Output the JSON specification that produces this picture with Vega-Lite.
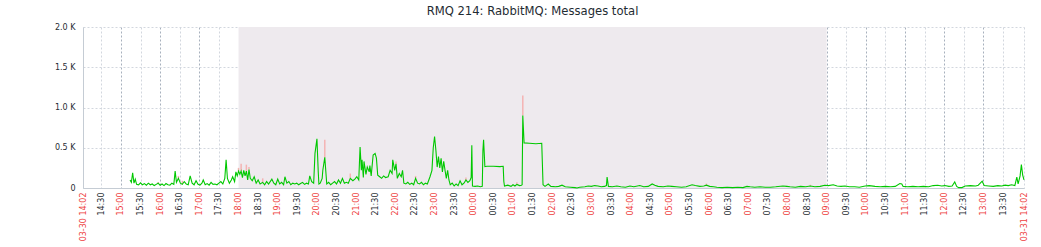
{
  "$schema": "https://vega.github.io/schema/vega-lite/v6.json",
  "width": 941,
  "height": 161,
  "autosize": "none",
  "padding": {"left": 83, "top": 27, "right": 17, "bottom": 59},
  "background": "white",
  "title": {
    "text": "RMQ 214: RabbitMQ: Messages total",
    "font": "DejaVu Sans",
    "fontSize": 11.6,
    "fontWeight": "normal",
    "color": "#1f2c33",
    "anchor": "middle",
    "frame": "group",
    "dx": -21,
    "offset": 5
  },
  "config": {
    "view": {"stroke": null},
    "axis": {"labelFont": "DejaVu Sans", "labelFontSize": 8, "titleFont": "DejaVu Sans"}
  },
  "data": {"values": [
      {"t": "2024-03-30T15:14Z", "v": 100},
      {"t": "2024-03-30T15:16Z", "v": 70},
      {"t": "2024-03-30T15:18Z", "v": 190},
      {"t": "2024-03-30T15:20Z", "v": 60},
      {"t": "2024-03-30T15:22Z", "v": 110},
      {"t": "2024-03-30T15:24Z", "v": 45},
      {"t": "2024-03-30T15:27Z", "v": 40},
      {"t": "2024-03-30T15:30Z", "v": 65},
      {"t": "2024-03-30T15:33Z", "v": 40},
      {"t": "2024-03-30T15:36Z", "v": 55},
      {"t": "2024-03-30T15:39Z", "v": 35},
      {"t": "2024-03-30T15:42Z", "v": 60},
      {"t": "2024-03-30T15:45Z", "v": 40},
      {"t": "2024-03-30T15:48Z", "v": 50},
      {"t": "2024-03-30T15:51Z", "v": 30},
      {"t": "2024-03-30T15:54Z", "v": 45},
      {"t": "2024-03-30T15:57Z", "v": 60, "m": 75},
      {"t": "2024-03-30T16:00Z", "v": 35},
      {"t": "2024-03-30T16:03Z", "v": 50},
      {"t": "2024-03-30T16:06Z", "v": 30},
      {"t": "2024-03-30T16:09Z", "v": 55},
      {"t": "2024-03-30T16:12Z", "v": 40},
      {"t": "2024-03-30T16:15Z", "v": 35},
      {"t": "2024-03-30T16:18Z", "v": 60},
      {"t": "2024-03-30T16:21Z", "v": 45},
      {"t": "2024-03-30T16:23Z", "v": 210},
      {"t": "2024-03-30T16:25Z", "v": 70},
      {"t": "2024-03-30T16:28Z", "v": 120, "m": 150},
      {"t": "2024-03-30T16:31Z", "v": 60},
      {"t": "2024-03-30T16:34Z", "v": 45, "m": 90},
      {"t": "2024-03-30T16:37Z", "v": 80},
      {"t": "2024-03-30T16:40Z", "v": 50},
      {"t": "2024-03-30T16:43Z", "v": 40},
      {"t": "2024-03-30T16:46Z", "v": 150},
      {"t": "2024-03-30T16:49Z", "v": 60},
      {"t": "2024-03-30T16:52Z", "v": 40},
      {"t": "2024-03-30T16:55Z", "v": 90},
      {"t": "2024-03-30T16:58Z", "v": 45},
      {"t": "2024-03-30T17:01Z", "v": 35},
      {"t": "2024-03-30T17:04Z", "v": 60},
      {"t": "2024-03-30T17:06Z", "v": 100},
      {"t": "2024-03-30T17:09Z", "v": 40},
      {"t": "2024-03-30T17:12Z", "v": 55},
      {"t": "2024-03-30T17:15Z", "v": 35},
      {"t": "2024-03-30T17:18Z", "v": 70},
      {"t": "2024-03-30T17:21Z", "v": 45},
      {"t": "2024-03-30T17:24Z", "v": 50},
      {"t": "2024-03-30T17:27Z", "v": 40},
      {"t": "2024-03-30T17:30Z", "v": 60},
      {"t": "2024-03-30T17:33Z", "v": 80},
      {"t": "2024-03-30T17:36Z", "v": 50},
      {"t": "2024-03-30T17:39Z", "v": 120},
      {"t": "2024-03-30T17:41Z", "v": 350},
      {"t": "2024-03-30T17:43Z", "v": 120},
      {"t": "2024-03-30T17:46Z", "v": 60},
      {"t": "2024-03-30T17:49Z", "v": 100},
      {"t": "2024-03-30T17:51Z", "v": 140},
      {"t": "2024-03-30T17:54Z", "v": 80},
      {"t": "2024-03-30T17:56Z", "v": 200},
      {"t": "2024-03-30T17:58Z", "v": 150},
      {"t": "2024-03-30T18:00Z", "v": 210, "m": 250},
      {"t": "2024-03-30T18:02Z", "v": 170},
      {"t": "2024-03-30T18:04Z", "v": 210, "m": 300},
      {"t": "2024-03-30T18:06Z", "v": 130},
      {"t": "2024-03-30T18:08Z", "v": 220},
      {"t": "2024-03-30T18:10Z", "v": 150},
      {"t": "2024-03-30T18:12Z", "v": 210, "m": 290},
      {"t": "2024-03-30T18:14Z", "v": 100},
      {"t": "2024-03-30T18:16Z", "v": 230, "m": 260},
      {"t": "2024-03-30T18:18Z", "v": 120},
      {"t": "2024-03-30T18:21Z", "v": 90},
      {"t": "2024-03-30T18:24Z", "v": 140},
      {"t": "2024-03-30T18:27Z", "v": 60},
      {"t": "2024-03-30T18:30Z", "v": 100},
      {"t": "2024-03-30T18:33Z", "v": 50},
      {"t": "2024-03-30T18:37Z", "v": 70, "m": 120},
      {"t": "2024-03-30T18:40Z", "v": 40},
      {"t": "2024-03-30T18:43Z", "v": 80},
      {"t": "2024-03-30T18:46Z", "v": 50},
      {"t": "2024-03-30T18:51Z", "v": 110},
      {"t": "2024-03-30T18:54Z", "v": 60},
      {"t": "2024-03-30T18:57Z", "v": 40},
      {"t": "2024-03-30T19:00Z", "v": 110},
      {"t": "2024-03-30T19:03Z", "v": 50},
      {"t": "2024-03-30T19:06Z", "v": 70},
      {"t": "2024-03-30T19:09Z", "v": 40},
      {"t": "2024-03-30T19:11Z", "v": 140},
      {"t": "2024-03-30T19:14Z", "v": 60},
      {"t": "2024-03-30T19:17Z", "v": 80},
      {"t": "2024-03-30T19:20Z", "v": 40},
      {"t": "2024-03-30T19:23Z", "v": 60},
      {"t": "2024-03-30T19:26Z", "v": 50},
      {"t": "2024-03-30T19:29Z", "v": 60},
      {"t": "2024-03-30T19:32Z", "v": 40},
      {"t": "2024-03-30T19:35Z", "v": 55},
      {"t": "2024-03-30T19:38Z", "v": 70},
      {"t": "2024-03-30T19:41Z", "v": 45},
      {"t": "2024-03-30T19:44Z", "v": 60},
      {"t": "2024-03-30T19:47Z", "v": 50},
      {"t": "2024-03-30T19:49Z", "v": 150},
      {"t": "2024-03-30T19:52Z", "v": 80},
      {"t": "2024-03-30T19:55Z", "v": 60},
      {"t": "2024-03-30T19:57Z", "v": 430},
      {"t": "2024-03-30T20:00Z", "v": 610},
      {"t": "2024-03-30T20:02Z", "v": 200},
      {"t": "2024-03-30T20:03Z", "v": 50},
      {"t": "2024-03-30T20:05Z", "v": 60},
      {"t": "2024-03-30T20:08Z", "v": 120},
      {"t": "2024-03-30T20:09Z", "v": 220},
      {"t": "2024-03-30T20:12Z", "v": 380, "m": 600},
      {"t": "2024-03-30T20:15Z", "v": 50},
      {"t": "2024-03-30T20:18Z", "v": 70},
      {"t": "2024-03-30T20:21Z", "v": 40},
      {"t": "2024-03-30T20:24Z", "v": 60},
      {"t": "2024-03-30T20:27Z", "v": 80},
      {"t": "2024-03-30T20:30Z", "v": 50},
      {"t": "2024-03-30T20:33Z", "v": 100},
      {"t": "2024-03-30T20:36Z", "v": 60},
      {"t": "2024-03-30T20:39Z", "v": 120},
      {"t": "2024-03-30T20:42Z", "v": 60},
      {"t": "2024-03-30T20:45Z", "v": 70},
      {"t": "2024-03-30T20:48Z", "v": 60},
      {"t": "2024-03-30T20:51Z", "v": 120, "m": 180},
      {"t": "2024-03-30T20:55Z", "v": 90},
      {"t": "2024-03-30T20:58Z", "v": 110},
      {"t": "2024-03-30T21:01Z", "v": 140},
      {"t": "2024-03-30T21:04Z", "v": 100},
      {"t": "2024-03-30T21:06Z", "v": 510},
      {"t": "2024-03-30T21:08Z", "v": 220},
      {"t": "2024-03-30T21:09Z", "v": 350},
      {"t": "2024-03-30T21:11Z", "v": 130},
      {"t": "2024-03-30T21:12Z", "v": 330},
      {"t": "2024-03-30T21:15Z", "v": 170},
      {"t": "2024-03-30T21:17Z", "v": 260},
      {"t": "2024-03-30T21:20Z", "v": 200},
      {"t": "2024-03-30T21:21Z", "v": 280},
      {"t": "2024-03-30T21:23Z", "v": 150},
      {"t": "2024-03-30T21:26Z", "v": 410},
      {"t": "2024-03-30T21:29Z", "v": 430},
      {"t": "2024-03-30T21:31Z", "v": 370},
      {"t": "2024-03-30T21:33Z", "v": 160},
      {"t": "2024-03-30T21:36Z", "v": 140},
      {"t": "2024-03-30T21:39Z", "v": 120},
      {"t": "2024-03-30T21:42Z", "v": 150},
      {"t": "2024-03-30T21:45Z", "v": 130},
      {"t": "2024-03-30T21:49Z", "v": 140},
      {"t": "2024-03-30T21:52Z", "v": 220},
      {"t": "2024-03-30T21:55Z", "v": 180},
      {"t": "2024-03-30T21:56Z", "v": 350},
      {"t": "2024-03-30T21:59Z", "v": 220},
      {"t": "2024-03-30T22:01Z", "v": 300, "m": 330},
      {"t": "2024-03-30T22:03Z", "v": 120},
      {"t": "2024-03-30T22:06Z", "v": 180},
      {"t": "2024-03-30T22:09Z", "v": 140},
      {"t": "2024-03-30T22:11Z", "v": 220},
      {"t": "2024-03-30T22:13Z", "v": 60},
      {"t": "2024-03-30T22:16Z", "v": 50},
      {"t": "2024-03-30T22:19Z", "v": 70},
      {"t": "2024-03-30T22:22Z", "v": 45},
      {"t": "2024-03-30T22:25Z", "v": 60},
      {"t": "2024-03-30T22:28Z", "v": 40},
      {"t": "2024-03-30T22:31Z", "v": 120, "m": 150},
      {"t": "2024-03-30T22:34Z", "v": 60},
      {"t": "2024-03-30T22:37Z", "v": 50},
      {"t": "2024-03-30T22:40Z", "v": 70},
      {"t": "2024-03-30T22:43Z", "v": 40},
      {"t": "2024-03-30T22:46Z", "v": 60},
      {"t": "2024-03-30T22:49Z", "v": 50},
      {"t": "2024-03-30T22:53Z", "v": 140},
      {"t": "2024-03-30T22:56Z", "v": 220},
      {"t": "2024-03-30T22:58Z", "v": 500},
      {"t": "2024-03-30T23:00Z", "v": 640},
      {"t": "2024-03-30T23:02Z", "v": 470},
      {"t": "2024-03-30T23:04Z", "v": 260},
      {"t": "2024-03-30T23:06Z", "v": 390},
      {"t": "2024-03-30T23:08Z", "v": 250},
      {"t": "2024-03-30T23:10Z", "v": 370},
      {"t": "2024-03-30T23:12Z", "v": 200},
      {"t": "2024-03-30T23:14Z", "v": 330},
      {"t": "2024-03-30T23:16Z", "v": 220},
      {"t": "2024-03-30T23:18Z", "v": 120},
      {"t": "2024-03-30T23:20Z", "v": 220},
      {"t": "2024-03-30T23:22Z", "v": 100},
      {"t": "2024-03-30T23:24Z", "v": 40},
      {"t": "2024-03-30T23:27Z", "v": 60},
      {"t": "2024-03-30T23:30Z", "v": 25},
      {"t": "2024-03-30T23:33Z", "v": 50},
      {"t": "2024-03-30T23:36Z", "v": 30},
      {"t": "2024-03-30T23:39Z", "v": 90},
      {"t": "2024-03-30T23:42Z", "v": 40},
      {"t": "2024-03-30T23:45Z", "v": 60},
      {"t": "2024-03-30T23:48Z", "v": 100, "m": 130},
      {"t": "2024-03-30T23:51Z", "v": 70},
      {"t": "2024-03-30T23:54Z", "v": 90},
      {"t": "2024-03-30T23:56Z", "v": 130},
      {"t": "2024-03-30T23:57Z", "v": 530},
      {"t": "2024-03-30T23:58Z", "v": 25},
      {"t": "2024-03-31T00:02Z", "v": 20},
      {"t": "2024-03-31T00:06Z", "v": 25},
      {"t": "2024-03-31T00:10Z", "v": 15},
      {"t": "2024-03-31T00:13Z", "v": 20},
      {"t": "2024-03-31T00:14Z", "v": 470},
      {"t": "2024-03-31T00:15Z", "v": 600},
      {"t": "2024-03-31T00:17Z", "v": 265},
      {"t": "2024-03-31T00:20Z", "v": 270},
      {"t": "2024-03-31T00:30Z", "v": 270},
      {"t": "2024-03-31T00:40Z", "v": 265},
      {"t": "2024-03-31T00:45Z", "v": 270},
      {"t": "2024-03-31T00:46Z", "v": 80},
      {"t": "2024-03-31T00:47Z", "v": 25},
      {"t": "2024-03-31T00:52Z", "v": 35},
      {"t": "2024-03-31T00:57Z", "v": 20},
      {"t": "2024-03-31T01:00Z", "v": 40},
      {"t": "2024-03-31T01:03Z", "v": 25},
      {"t": "2024-03-31T01:06Z", "v": 45, "m": 70},
      {"t": "2024-03-31T01:10Z", "v": 30},
      {"t": "2024-03-31T01:13Z", "v": 35},
      {"t": "2024-03-31T01:14Z", "v": 40},
      {"t": "2024-03-31T01:15Z", "v": 900, "m": 1150},
      {"t": "2024-03-31T01:17Z", "v": 560},
      {"t": "2024-03-31T01:25Z", "v": 555},
      {"t": "2024-03-31T01:35Z", "v": 550},
      {"t": "2024-03-31T01:44Z", "v": 555},
      {"t": "2024-03-31T01:46Z", "v": 40},
      {"t": "2024-03-31T01:49Z", "v": 20},
      {"t": "2024-03-31T01:54Z", "v": 50},
      {"t": "2024-03-31T01:58Z", "v": 20},
      {"t": "2024-03-31T02:05Z", "v": 15},
      {"t": "2024-03-31T02:10Z", "v": 20},
      {"t": "2024-03-31T02:15Z", "v": 35},
      {"t": "2024-03-31T02:20Z", "v": 15},
      {"t": "2024-03-31T02:28Z", "v": 10},
      {"t": "2024-03-31T02:35Z", "v": 5},
      {"t": "2024-03-31T02:38Z", "v": 0},
      {"t": "2024-03-31T02:42Z", "v": 10},
      {"t": "2024-03-31T02:50Z", "v": 15},
      {"t": "2024-03-31T02:55Z", "v": 25},
      {"t": "2024-03-31T03:00Z", "v": 20},
      {"t": "2024-03-31T03:05Z", "v": 30},
      {"t": "2024-03-31T03:10Z", "v": 25},
      {"t": "2024-03-31T03:15Z", "v": 15},
      {"t": "2024-03-31T03:20Z", "v": 20},
      {"t": "2024-03-31T03:23Z", "v": 30},
      {"t": "2024-03-31T03:24Z", "v": 135},
      {"t": "2024-03-31T03:26Z", "v": 20},
      {"t": "2024-03-31T03:32Z", "v": 15},
      {"t": "2024-03-31T03:39Z", "v": 25},
      {"t": "2024-03-31T03:45Z", "v": 15},
      {"t": "2024-03-31T03:52Z", "v": 10},
      {"t": "2024-03-31T03:59Z", "v": 25},
      {"t": "2024-03-31T04:05Z", "v": 15},
      {"t": "2024-03-31T04:14Z", "v": 30},
      {"t": "2024-03-31T04:20Z", "v": 15},
      {"t": "2024-03-31T04:27Z", "v": 20},
      {"t": "2024-03-31T04:33Z", "v": 50},
      {"t": "2024-03-31T04:37Z", "v": 35},
      {"t": "2024-03-31T04:42Z", "v": 20},
      {"t": "2024-03-31T04:50Z", "v": 15},
      {"t": "2024-03-31T04:57Z", "v": 25},
      {"t": "2024-03-31T05:03Z", "v": 20},
      {"t": "2024-03-31T05:10Z", "v": 15},
      {"t": "2024-03-31T05:18Z", "v": 10},
      {"t": "2024-03-31T05:25Z", "v": 15},
      {"t": "2024-03-31T05:34Z", "v": 40},
      {"t": "2024-03-31T05:39Z", "v": 30},
      {"t": "2024-03-31T05:46Z", "v": 20},
      {"t": "2024-03-31T05:52Z", "v": 25},
      {"t": "2024-03-31T05:56Z", "v": 35, "m": 55},
      {"t": "2024-03-31T06:01Z", "v": 20},
      {"t": "2024-03-31T06:07Z", "v": 15},
      {"t": "2024-03-31T06:12Z", "v": 10},
      {"t": "2024-03-31T06:20Z", "v": 5},
      {"t": "2024-03-31T06:28Z", "v": 10},
      {"t": "2024-03-31T06:36Z", "v": 5},
      {"t": "2024-03-31T06:44Z", "v": 10},
      {"t": "2024-03-31T06:52Z", "v": 5},
      {"t": "2024-03-31T06:58Z", "v": 20},
      {"t": "2024-03-31T07:03Z", "v": 15},
      {"t": "2024-03-31T07:10Z", "v": 10},
      {"t": "2024-03-31T07:18Z", "v": 15},
      {"t": "2024-03-31T07:26Z", "v": 10},
      {"t": "2024-03-31T07:34Z", "v": 10},
      {"t": "2024-03-31T07:42Z", "v": 15},
      {"t": "2024-03-31T07:53Z", "v": 25},
      {"t": "2024-03-31T07:59Z", "v": 20},
      {"t": "2024-03-31T08:04Z", "v": 15},
      {"t": "2024-03-31T08:12Z", "v": 10},
      {"t": "2024-03-31T08:20Z", "v": 20},
      {"t": "2024-03-31T08:28Z", "v": 15},
      {"t": "2024-03-31T08:35Z", "v": 25, "m": 40},
      {"t": "2024-03-31T08:42Z", "v": 15},
      {"t": "2024-03-31T08:50Z", "v": 20},
      {"t": "2024-03-31T08:57Z", "v": 35},
      {"t": "2024-03-31T09:03Z", "v": 30},
      {"t": "2024-03-31T09:10Z", "v": 40},
      {"t": "2024-03-31T09:16Z", "v": 25},
      {"t": "2024-03-31T09:22Z", "v": 20},
      {"t": "2024-03-31T09:28Z", "v": 25},
      {"t": "2024-03-31T09:35Z", "v": 15},
      {"t": "2024-03-31T09:43Z", "v": 15},
      {"t": "2024-03-31T09:50Z", "v": 10},
      {"t": "2024-03-31T09:59Z", "v": 25},
      {"t": "2024-03-31T10:05Z", "v": 30},
      {"t": "2024-03-31T10:14Z", "v": 20},
      {"t": "2024-03-31T10:22Z", "v": 15},
      {"t": "2024-03-31T10:30Z", "v": 20},
      {"t": "2024-03-31T10:38Z", "v": 15},
      {"t": "2024-03-31T10:45Z", "v": 20},
      {"t": "2024-03-31T10:52Z", "v": 55},
      {"t": "2024-03-31T10:55Z", "v": 50},
      {"t": "2024-03-31T10:57Z", "v": 20},
      {"t": "2024-03-31T11:04Z", "v": 15},
      {"t": "2024-03-31T11:12Z", "v": 20},
      {"t": "2024-03-31T11:20Z", "v": 15},
      {"t": "2024-03-31T11:28Z", "v": 20},
      {"t": "2024-03-31T11:36Z", "v": 15},
      {"t": "2024-03-31T11:43Z", "v": 30},
      {"t": "2024-03-31T11:50Z", "v": 35},
      {"t": "2024-03-31T11:56Z", "v": 25},
      {"t": "2024-03-31T12:01Z", "v": 30},
      {"t": "2024-03-31T12:07Z", "v": 20},
      {"t": "2024-03-31T12:12Z", "v": 25},
      {"t": "2024-03-31T12:16Z", "v": 75},
      {"t": "2024-03-31T12:19Z", "v": 20},
      {"t": "2024-03-31T12:22Z", "v": 5},
      {"t": "2024-03-31T12:27Z", "v": 5},
      {"t": "2024-03-31T12:32Z", "v": 25},
      {"t": "2024-03-31T12:40Z", "v": 30},
      {"t": "2024-03-31T12:48Z", "v": 25},
      {"t": "2024-03-31T12:52Z", "v": 35},
      {"t": "2024-03-31T12:58Z", "v": 85},
      {"t": "2024-03-31T13:01Z", "v": 30},
      {"t": "2024-03-31T13:08Z", "v": 25},
      {"t": "2024-03-31T13:15Z", "v": 20},
      {"t": "2024-03-31T13:22Z", "v": 30},
      {"t": "2024-03-31T13:28Z", "v": 25},
      {"t": "2024-03-31T13:33Z", "v": 35},
      {"t": "2024-03-31T13:38Z", "v": 30},
      {"t": "2024-03-31T13:43Z", "v": 40},
      {"t": "2024-03-31T13:48Z", "v": 30},
      {"t": "2024-03-31T13:51Z", "v": 135},
      {"t": "2024-03-31T13:53Z", "v": 50},
      {"t": "2024-03-31T13:56Z", "v": 150},
      {"t": "2024-03-31T13:58Z", "v": 290},
      {"t": "2024-03-31T14:00Z", "v": 160},
      {"t": "2024-03-31T14:02Z", "v": 100}
  ]},
  "layer": [
    {
      "data": {"values": [{"start": "2024-03-30T18:00Z", "end": "2024-03-31T09:00Z"}]},
      "mark": {"type": "rect", "color": "#eeeaee"},
      "encoding": {
        "x": {"field": "start", "type": "temporal", "scale": {"type": "utc"}},
        "x2": {"field": "end"}
      }
    },
    {
      "transform": [{"filter": "isValid(datum.m)"}],
      "mark": {"type": "rule", "color": "#f4b3b3", "strokeWidth": 1.5},
      "encoding": {
        "x": {"field": "t", "type": "temporal", "scale": {"type": "utc"}},
        "y": {"field": "v", "type": "quantitative"},
        "y2": {"field": "m"}
      }
    },
    {
      "mark": {"type": "line", "color": "#00c800", "strokeWidth": 1.1, "interpolate": "linear"},
      "encoding": {
        "x": {
          "field": "t",
          "type": "temporal",
          "scale": {"type": "utc", "domain": [1711807320000, 1711893720000]},
          "title": null,
          "axis": {
            "values": [1711807320000, 1711809000000, 1711810800000, 1711812600000, 1711814400000, 1711816200000, 1711818000000, 1711819800000, 1711821600000, 1711823400000, 1711825200000, 1711827000000, 1711828800000, 1711830600000, 1711832400000, 1711834200000, 1711836000000, 1711837800000, 1711839600000, 1711841400000, 1711843200000, 1711845000000, 1711846800000, 1711848600000, 1711850400000, 1711852200000, 1711854000000, 1711855800000, 1711857600000, 1711859400000, 1711861200000, 1711863000000, 1711864800000, 1711866600000, 1711868400000, 1711870200000, 1711872000000, 1711873800000, 1711875600000, 1711877400000, 1711879200000, 1711881000000, 1711882800000, 1711884600000, 1711886400000, 1711888200000, 1711890000000, 1711891800000, 1711893720000],
            "tickCount": 100,
            "labelExpr": "utcminutes(datum.value) == 2 ? utcFormat(datum.value, '%m-%d %H:%M') : utcFormat(datum.value, '%H:%M')",
            "labelAngle": -90,
            "labelOverlap": false,
            "labelFlush": false,
            "labelPadding": 4,
            "labelColor": {"condition": {"test": "utcminutes(datum.value) == 30", "value": "#1f2c33"}, "value": "#ee3d3d"},
            "ticks": false,
            "domainColor": "#c5ccd4",
            "grid": true,
            "gridColor": {"condition": {"test": "utcminutes(datum.value) == 0", "value": "#a7b0bd"}, "value": "#d2d7de"},
            "gridDash": [2, 2],
            "gridWidth": 1
          }
        },
        "y": {
          "field": "v",
          "type": "quantitative",
          "scale": {"domain": [0, 2000]},
          "title": null,
          "axis": {
            "values": [0, 500, 1000, 1500, 2000],
            "labelExpr": "datum.value == 0 ? '0' : format(datum.value / 1000, '.1f') + ' K'",
            "labelColor": "#1f2c33",
            "labelPadding": 8,
            "ticks": false,
            "domainColor": "#c5ccd4",
            "grid": true,
            "gridColor": "#d2d7de",
            "gridDash": [2, 2]
          }
        }
      }
    }
  ]
}
